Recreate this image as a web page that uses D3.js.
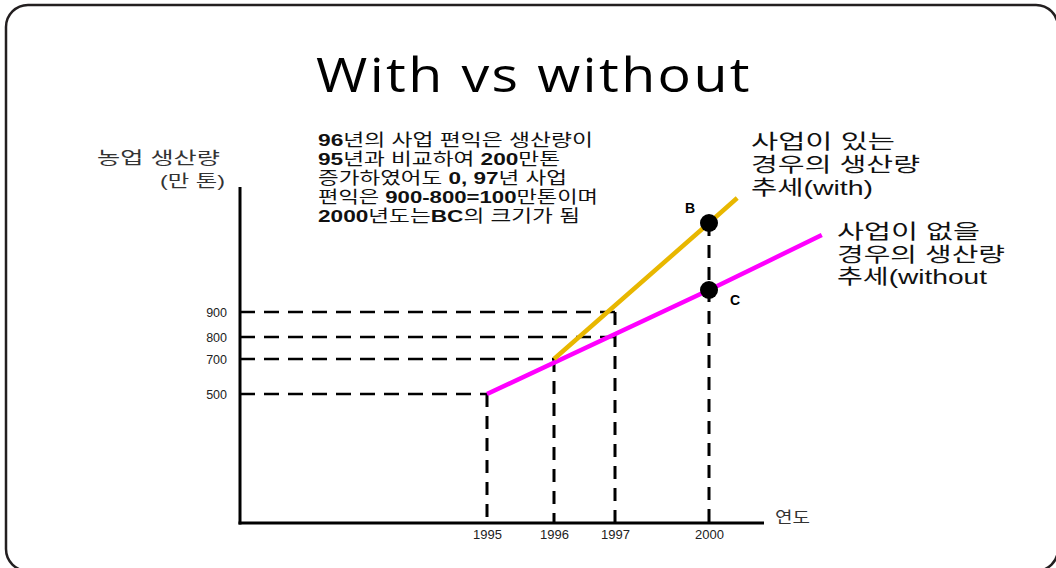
<!DOCTYPE html>
<html><head><meta charset="utf-8">
<script src="https://cdn.jsdelivr.net/npm/d3@7"></script>
<style>body{margin:0;background:#fff} svg{display:block}</style>
</head><body><svg id="c" width="1056" height="568"></svg>
<script>
// ---- data ----
const title = "With vs without";
const years = [1995, 1996, 1997, 2000];
const yTickValues = [500, 700, 800, 900];
const withoutYears = [1995, 2000, 2003.6];
const withoutValues = [500, 988, 1208];
const withYears = [1996, 2000, 2000.9];
const withValues = [700, 1256, 1356];
const hGuideValues = [500, 700, 800, 900];
const hGuideYears = [1995, 1996, 1997, 1997];
const vGuideYears = [1995, 1996, 1997, 2000];
const vGuideValues = [500, 700, 900, 1256];
const pointLabels = ["B", "C"];
const pointYears = [2000, 2000];
const pointValues = [1256, 988];
const yAxisTitle = ["농업 생산량", "(만 톤)"];
const xAxisTitle = "연도";
const withLabel = ["사업이 있는", "경우의 생산량", "추세(with)"];
const withoutLabel = ["사업이 없을", "경우의 생산량", "추세(without"];
const noteLines = [
  [["96", 1], ["년의 사업 편익은 생산량이", 0]],
  [["95", 1], ["년과 비교하여 ", 0], ["200", 1], ["만톤", 0]],
  [["증가하였어도 ", 0], ["0, 97", 1], ["년 사업", 0]],
  [["편익은 ", 0], ["900-800=100", 1], ["만톤이며", 0]],
  [["2000", 1], ["년도는", 0], ["BC", 1], ["의 크기가 됨", 0]]
];

// ---- layout ----
const axisLeft = 240, axisBottom = 523, axisTop = 187, axisRight = 764;
const svg = d3.select("#c");
const KR = "'Liberation Sans', Arial, 'Noto Sans CJK KR', sans-serif";
const withLabelWidths = [144, 169, 122];
const withoutLabelWidths = [143, 168, 150];
const noteWidths = [275, 242, 249, 280, 262];

svg.append("rect").attr("x", 6).attr("y", 5).attr("width", 1052).attr("height", 566)
  .attr("rx", 22).attr("fill", "#fff").attr("stroke", "#231f20").attr("stroke-width", 2.5);

svg.append("text").attr("x", 316).attr("y", 92)
  .attr("font-family", "'Open Sans', 'Noto Sans', sans-serif").attr("font-size", 47)
  .attr("letter-spacing", 2).attr("textLength", 436).attr("lengthAdjust", "spacingAndGlyphs")
  .attr("fill", "#000").text(title);

// scales (piecewise-linear, as in the hand-drawn original)
const x = d3.scaleLinear().domain(years).range([487, 554, 615, 709]);
const y = d3.scaleLinear().domain(yTickValues).range([394, 359, 337, 312]);

// guides
const g = svg.append("g");
g.selectAll(".hg").data(hGuideValues).join("line")
  .attr("x1", axisLeft).attr("x2", (d, i) => x(hGuideYears[i]))
  .attr("y1", d => y(d)).attr("y2", d => y(d))
  .attr("stroke", "#000").attr("stroke-width", 2.5).attr("stroke-dasharray", "15,9");
g.selectAll(".vg").data(vGuideYears).join("line")
  .attr("x1", d => x(d)).attr("x2", d => x(d))
  .attr("y1", (d, i) => y(vGuideValues[i])).attr("y2", axisBottom)
  .attr("stroke", "#000").attr("stroke-width", 3).attr("stroke-dasharray", "13,9");

// lines
const lineGen = d3.line().x(d => x(d[0])).y(d => y(d[1]));
svg.append("path").datum(withoutYears.map((d, i) => [d, withoutValues[i]]))
  .attr("d", lineGen).attr("fill", "none").attr("stroke", "#ff00ff").attr("stroke-width", 4.5);
svg.append("path").datum(withYears.map((d, i) => [d, withValues[i]]))
  .attr("d", lineGen).attr("fill", "none").attr("stroke", "#e8b700").attr("stroke-width", 4.5);

// points
svg.selectAll(".pt").data(pointYears).join("circle")
  .attr("cx", d => x(d)).attr("cy", (d, i) => y(pointValues[i])).attr("r", 9).attr("fill", "#000");
svg.selectAll(".pl").data(pointLabels).join("text")
  .attr("x", (d, i) => x(pointYears[i]) + (i === 0 ? -19 : 26))
  .attr("y", (d, i) => y(pointValues[i]) + (i === 0 ? -10 : 15))
  .attr("text-anchor", "middle").attr("font-family", "'Liberation Sans', Arial, sans-serif")
  .attr("font-weight", "bold").attr("font-size", 14).attr("fill", "#000").text(d => d);

// axes
svg.append("line").attr("x1", axisLeft).attr("x2", axisLeft).attr("y1", axisTop).attr("y2", axisBottom + 1.5)
  .attr("stroke", "#000").attr("stroke-width", 3);
svg.append("line").attr("x1", axisLeft - 1.5).attr("x2", axisRight).attr("y1", axisBottom).attr("y2", axisBottom)
  .attr("stroke", "#000").attr("stroke-width", 3);

const ya = svg.append("g").attr("transform", `translate(${axisLeft},0)`)
  .call(d3.axisLeft(y).tickValues(yTickValues).tickSize(0).tickPadding(13));
ya.select(".domain").remove();
ya.selectAll("text").attr("font-family", "'Liberation Sans', Arial, sans-serif").attr("font-size", 12.5).attr("fill", "#222");

const xa = svg.append("g").attr("transform", `translate(0,${axisBottom})`)
  .call(d3.axisBottom(x).tickValues(years).tickFormat(d3.format("d")).tickSize(0).tickPadding(7));
xa.select(".domain").remove();
xa.selectAll("text").attr("font-family", "'Liberation Sans', Arial, sans-serif").attr("font-size", 13).attr("fill", "#222");

// axis titles
function fitText(xp, yp, size, width, str, color) {
  return svg.append("text").attr("x", xp).attr("y", yp).attr("font-family", KR).attr("font-size", size)
    .attr("textLength", width).attr("lengthAdjust", "spacingAndGlyphs").attr("fill", color).text(str);
}
fitText(97, 164, 16.5, 123, yAxisTitle[0], "#333");
fitText(160, 187, 16.5, 65, yAxisTitle[1], "#333");
fitText(775, 523, 16, 35, xAxisTitle, "#333");

// series labels
withLabel.forEach((d, i) => fitText(751, 149 + i * 23, 20, withLabelWidths[i], d, "#111"));
withoutLabel.forEach((d, i) => fitText(837, 239 + i * 22.5, 20, withoutLabelWidths[i], d, "#111"));

// note
const note = svg.append("g");
noteLines.forEach((segs, i) => {
  const t = note.append("text").attr("x", 318).attr("y", 146 + i * 19)
    .attr("font-family", KR).attr("font-size", 16.5).attr("fill", "#111")
    .attr("textLength", noteWidths[i]).attr("lengthAdjust", "spacingAndGlyphs");
  segs.forEach(s => t.append("tspan").attr("font-weight", s[1] ? "bold" : "normal").text(s[0]));
});
</script></body></html>
